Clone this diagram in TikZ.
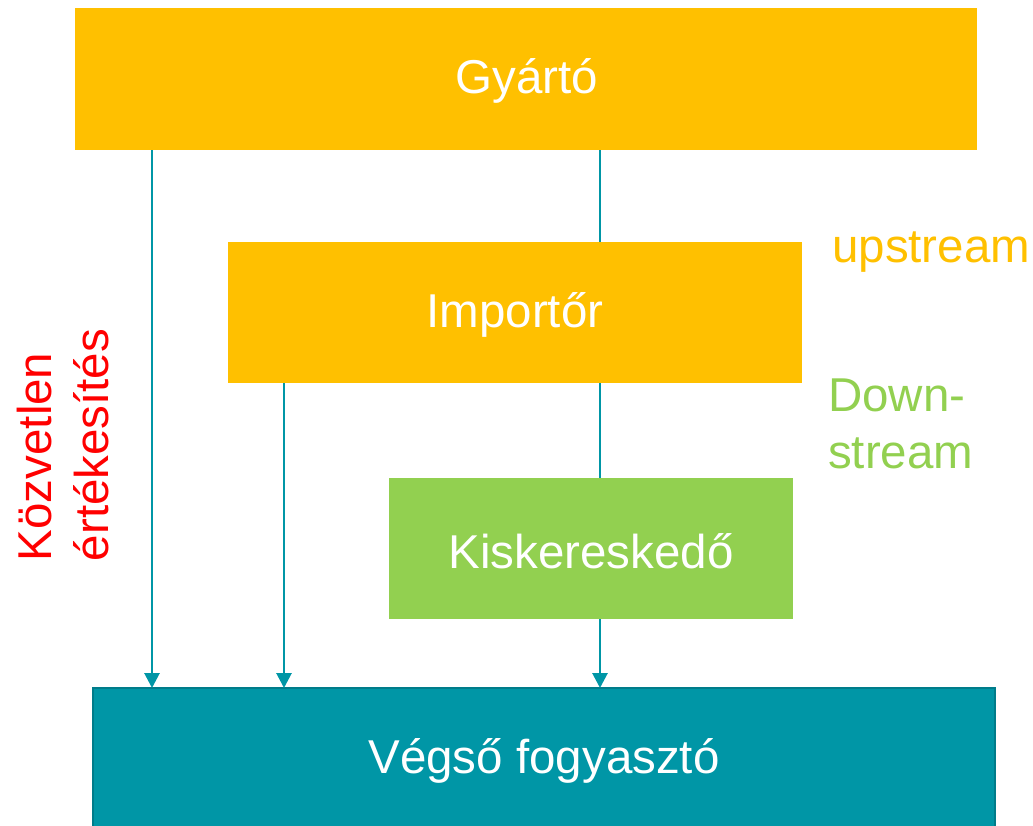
\documentclass[tikz,border=0pt]{standalone}
\usepackage{fontspec}
\setmainfont{Liberation Sans}
\usetikzlibrary{arrows.meta}
\definecolor{gold}{HTML}{FFC000}
\definecolor{lgreen}{HTML}{92D050}
\definecolor{teal1}{HTML}{0096A6}
\definecolor{teal2}{HTML}{007C8A}
\begin{document}
\begin{tikzpicture}[x=1pt,y=-1pt,
  box/.style={inner sep=0pt, text=white, font=\fontsize{47.5}{56}\selectfont},
  conn/.style={draw=teal1, line width=2.8pt},
  arr/.style={conn, -{Triangle[width=15pt,length=15pt]}},
  lbl/.style={font=\fontsize{47.5}{57}\selectfont, align=left, inner sep=0pt}]
\clip (0,0) rectangle (1033,825);
\fill[gold] (75,8) rectangle (977,150);
\node[box] (gy) at (527,81) {Gyártó};
\fill[gold] (228,242) rectangle (802,383);
\node[box] (im) at (515,315) {Importőr};
\fill[lgreen] (389,478) rectangle (793,619);
\node[box] (ki) at (591,551) {Kiskereskedő};
\fill[teal1, draw=teal2, line width=2pt] (93,688) rectangle (995,840);
\node[box] (ve) at (544,761) {Végső fogyasztó};
% connectors
\coordinate (a1) at (152,150); \coordinate (a1e) at (152,688);
\coordinate (a2) at (284,383); \coordinate (a2e) at (284,688);
\coordinate (m1) at (600,150); \coordinate (m1e) at (600,242);
\coordinate (m2) at (600,383); \coordinate (m2e) at (600,478);
\coordinate (m3) at (600,619); \coordinate (m3e) at (600,688);
\draw[arr] (a1) -- (a1e);
\draw[arr] (a2) -- (a2e);
\draw[conn] (m1) -- (m1e);
\draw[conn] (m2) -- (m2e);
\draw[arr] (m3) -- (m3e);
% labels
\node[lbl, text=gold, anchor=base west] (up) at (832,262) {upstream};
\node[lbl, text=lgreen, anchor=north west] (down) at (828,379) {Down-\\stream};
\node[lbl, text=red, rotate=90] (kz) at (63,445) {Közvetlen\\értékesítés};
\end{tikzpicture}
\end{document}
